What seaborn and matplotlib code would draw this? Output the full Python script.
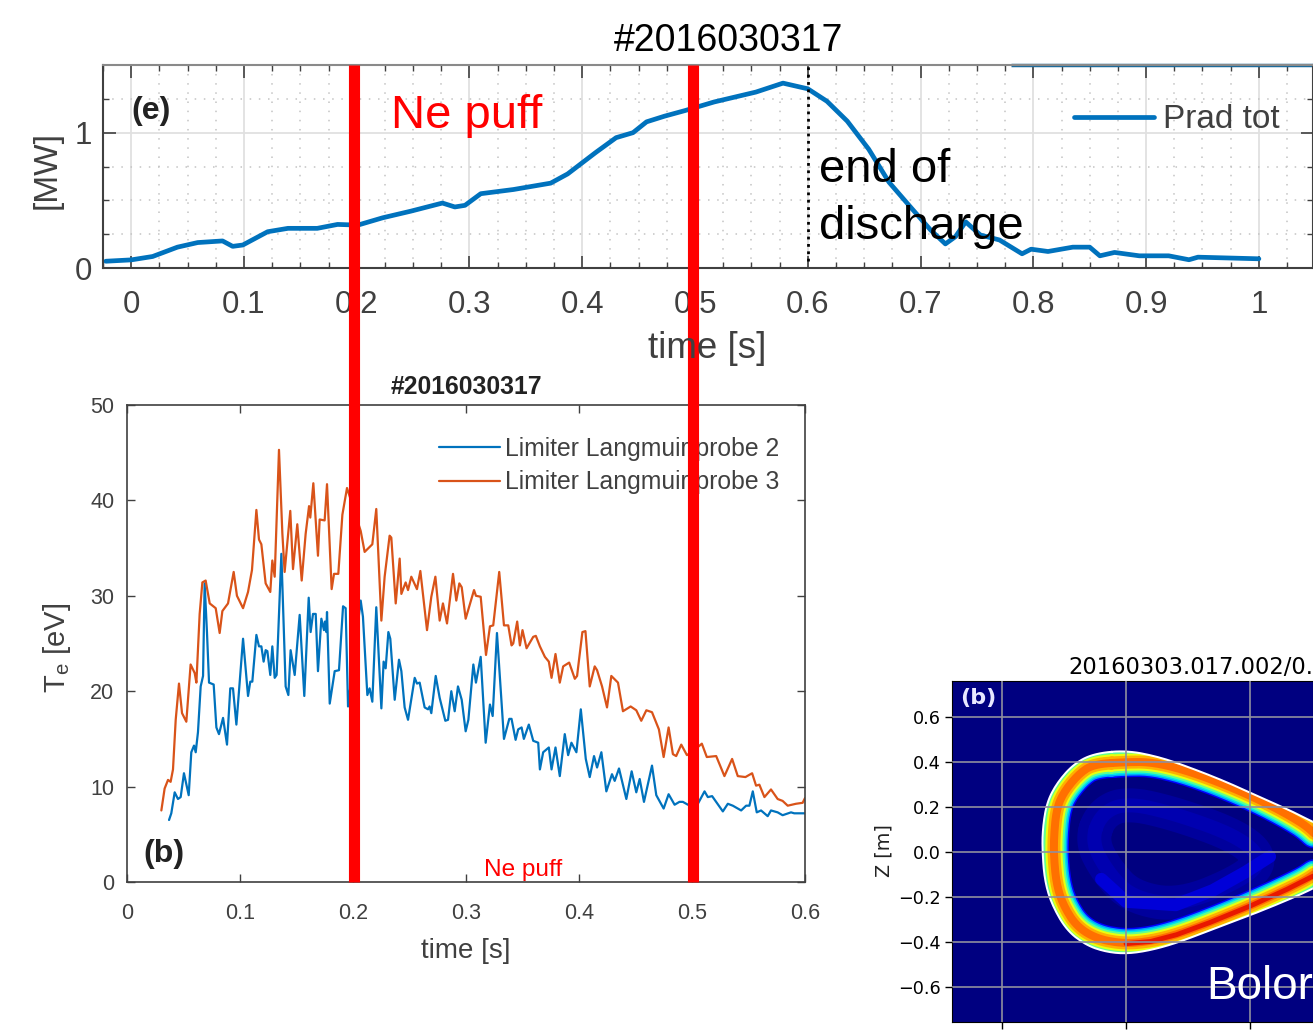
# Radiated power and limiter Te for shot 2016030317, with the bolometer tomogram

import matplotlib.pyplot as plt
import numpy as np
import seaborn as sns
from matplotlib.patches import Polygon

# Total radiated power
prad_t = [-.0225, 0, .019, .041, .059, .081, .09, .099, .121, .139, .165, .183, .201, .223, .248, .276, .287, .296,
          .31, .339, .372, .387, .412, .43, .445, .457, .473, .491, .517, .554, .578, .6, .617, .635, .654, .672,
          .691, .709, .722, .731, .74, .753, .77, .79, .798, .813, .835, .85, .859, .872, .894, .92, .938, .946, 1.0]
prad_mw = [.05, .06, .085, .154, .188, .20, .16, .17, .268, .293, .293, .322, .317, .371, .42, .48, .451, .463,
           .549, .58, .627, .695, .854, .963, 1.0, 1.08, 1.122, 1.163, 1.227, 1.30, 1.366, 1.324, 1.232, 1.085, .878, .634,
           .451, .28, .178, .232, .341, .244, .207, .105, .139, .122, .154, .154, .09, .115, .09, .09, .061, .08, .068]

# Limiter Langmuir probe 2
lp2_t = [.0372, .0392, .0422, .0451, .0475, .0504, .0546, .0569, .0593, .0608, .0628, .0652, .0673, .0687, .0708,
         .0726, .0767, .0791, .0814, .085, .0885, .0914, .0938, .0968, .1027, .1071, .1091, .1109, .1145, .1168,
         .1189, .1209, .1227, .1242, .1268, .1286, .1307, .1324, .1366, .1404, .1428, .1448, .1484, .1528, .1569,
         .1608, .1625, .1646, .167, .169, .172, .1743, .1752, .1764, .177, .1794, .1838, .1876, .1912, .1935, .1956,
         .2068, .2088, .2127, .2147, .2171, .2206, .2251, .2271, .2289, .2313, .233, .2369, .2407, .2428, .2457,
         .2487, .2546, .2566, .259, .2634, .2664, .2678, .2693, .2732, .2767, .2817, .2841, .287, .29, .2929, .2962,
         .2997, .3021, .3065, .3088, .313, .3174, .3212, .3236, .3274, .3336, .3383, .3403, .3439, .3462, .3492,
         .3512, .3556, .3595, .3639, .3654, .3683, .3733, .3757, .3792, .383, .3874, .3904, .3933, .3977, .4016,
         .406, .4095, .4133, .416, .4198, .4242, .4292, .4316, .4354, .4419, .4466, .4507, .4537, .4575, .4646,
         .4684, .4749, .4793, .4846, .4889, .4919, .4964, .5052, .5111, .514, .5178, .5273, .5317, .5361, .5435,
         .5479, .5508, .5538, .5573, .5611, .567, .5699, .5758, .5802, .5876, .5905, .5949, .6]
lp2_te = [6.5, 7.2, 9.4, 8.7, 8.9, 11.4, 9.1, 13.6, 14.3, 13.6, 15.7, 20.5, 21.6, 31.3, 26.1,
          20.9, 20.7, 16.2, 15.5, 17.2, 14.4, 20.3, 20.3, 16.5, 25.5, 19.5, 21.0, 21.0, 25.9, 24.7,
          24.7, 23.1, 24.3, 24.2, 21.7, 24.7, 21.4, 21.7, 34.4, 20.5, 19.6, 24.3, 21.7, 28.0, 19.5,
          29.8, 26.2, 28.1, 28.1, 22.1, 27.6, 26.4, 27.3, 26.2, 28.3, 18.7, 22.1, 22.2, 28.9, 28.7, 18.4,
          29.5, 27.8, 19.6, 20.3, 18.9, 28.8, 18.2, 23.1, 22.4, 26.2, 25.5, 19.1, 23.3, 22.1, 18.3,
          17.0, 21.4, 20.8, 20.9, 18.3, 18.1, 18.4, 17.7, 21.6, 19.3, 16.9, 17.0, 20.0, 17.9, 20.5, 19.1,
          15.8, 17.0, 22.8, 20.9, 23.6, 14.6, 18.6, 17.4, 26.1, 15.0, 17.1, 17.1, 14.9, 16.0, 16.2,
          15.0, 16.5, 14.8, 14.6, 11.8, 13.6, 14.1, 11.8, 14.1, 11.1, 15.5, 13.3, 14.6, 13.6, 18.1,
          12.9, 11.0, 13.2, 12.0, 13.6, 9.5, 11.3, 10.6, 11.9, 8.7, 11.6, 9.4, 10.8, 8.4, 12.2,
          9.1, 7.7, 9.2, 8.1, 8.4, 8.4, 8.1, 8.2, 9.5, 8.9, 9.0, 7.4, 8.2, 8.0, 7.5,
          8.0, 8.0, 9.5, 7.3, 7.5, 6.9, 7.5, 7.3, 7.0, 7.3, 7.2, 7.2, 7.2]

# Limiter Langmuir probe 3
lp3_t = [.0304, .0333, .0363, .0386, .0407, .0431, .046, .0487, .0525, .0563, .0599, .0614, .0643, .0667, .0696,
         .0732, .0785, .082, .0844, .0894, .0944, .0973, .1027, .1071, .1106, .1145, .1168, .1189, .1227, .1268,
         .1286, .1307, .1345, .1375, .1395, .1445, .1469, .1507, .1546, .1581, .1611, .1622, .1649, .169, .1705,
         .1749, .177, .1811, .1832, .187, .1906, .1947, .2068, .2103, .2171, .2206, .2251, .228, .2324, .2339,
         .2378, .2413, .2428, .2466, .2487, .2516, .2566, .2596, .2655, .2693, .2729, .2767, .2796, .2832, .2885,
         .2914, .2941, .2962, .2997, .3071, .3088, .313, .3177, .3212, .3241, .3294, .3336, .3374, .3403, .3418,
         .3453, .3477, .35, .3536, .3595, .3618, .3654, .3698, .3733, .3757, .3792, .383, .386, .3913, .3963, .3983,
         .403, .4057, .4095, .4139, .416, .4204, .4248, .4286, .4345, .4389, .4457, .4507, .4551, .4596, .4646,
         .4707, .4749, .4793, .4831, .486, .4905, .4955, .5008, .5087, .5131, .5214, .5287, .5355, .5405, .5473,
         .5532, .5567, .5596, .5641, .5699, .5758, .5802, .5847, .592, .5979, .6]
lp3_te = [7.5, 9.8, 10.7, 10.5, 11.8, 17.0, 20.8, 17.7, 16.8, 22.8, 21.9, 20.9, 28.1, 31.4, 31.6,
          29.2, 28.7, 26.1, 28.4, 29.2, 32.5, 30.0, 28.7, 30.4, 32.7, 39.0, 35.9, 35.4, 31.3, 30.4,
          33.7, 32.0, 45.3, 36.5, 32.5, 38.9, 32.8, 37.5, 31.6, 36.5, 39.4, 38.2, 41.8, 34.2, 38.0,
          37.9, 41.7, 30.7, 32.3, 32.3, 38.5, 41.3, 36.8, 34.6, 35.4, 39.1, 27.4, 32.0, 36.3, 36.1,
          29.2, 33.9, 30.2, 31.4, 30.6, 32.0, 30.7, 32.6, 26.4, 29.9, 32.0, 27.4, 29.2, 27.1, 32.3,
          29.5, 31.3, 30.9, 27.6, 30.6, 30.0, 29.9, 23.8, 26.8, 26.9, 32.5, 26.9, 26.9, 24.8, 25.0,
          27.3, 24.8, 26.4, 24.5, 25.7, 25.8, 24.7, 23.6, 23.1, 21.4, 23.9, 20.9, 22.6, 23.0, 21.3, 21.6,
          26.2, 26.3, 20.5, 22.6, 22.2, 20.5, 18.3, 21.6, 20.9, 17.9, 18.4, 18.0, 16.9, 18.0, 17.8,
          16.0, 13.1, 16.2, 13.4, 13.2, 14.4, 13.3, 13.7, 14.5, 13.1, 13.2, 11.1, 12.9, 11.1, 11.0,
          11.4, 10.1, 10.2, 8.9, 9.7, 8.7, 8.5, 8.0, 8.2, 8.3, 8.8]

# Tomogram contours, R and Z in metres
edge_r = [5.50, 5.367, 5.287, 5.219, 5.179, 5.163, 5.163, 5.172, 5.199, 5.26, 5.341, 5.421, 5.502, 5.596, 5.704,
          5.838, 6.0, 6.148, 6.254, 6.39, 6.431, 6.39, 6.254, 6.175, 6.04, 5.906, 5.771, 5.637]
edge_z = [.452, .437, .39, .304, .215, .096, -.007, -.126, -.23, -.348, -.415, -.444, -.452, -.437, -.404,
          -.348, -.281, -.215, -.163, -.081, -.007, .067, .133, .178, .244, .311, .37, .422]
band_r = [5.50, 5.367, 5.307, 5.246, 5.219, 5.209, 5.209, 5.219, 5.246, 5.30, 5.381, 5.489, 5.596, 5.704, 5.838,
          6.0, 6.148, 6.254, 6.336, 6.254, 6.148, 6.0, 5.838, 5.704, 5.596]
band_z = [.40, .39, .345, .262, .187, .067, -.022, -.141, -.235, -.33, -.385, -.407, -.397, -.367, -.313,
          -.24, -.166, -.107, -.022, .096, .17, .252, .326, .375, .40]
core_r = [5.36, 5.40, 5.50, 5.70, 5.95, 6.05, 5.98, 5.72, 5.52, 5.42]
core_z = [.05, .17, .22, .17, .07, -.03, -.12, -.24, -.2, -.08]
glow_r = [5.40, 5.50, 5.70, 5.85, 5.98, 6.08]
glow_z = [-.12, -.22, -.235, -.17, -.09, -.02]
hot_r = [5.50, 5.60, 5.704, 5.838, 6.0, 6.148, 6.254]
hot_z = [-.407, -.397, -.367, -.313, -.24, -.166, -.107]

W, H = 1313, 1030
MATLAB_GREY = '#404040'


def px_axes(left, top, right, bottom):
    return fig.add_axes([left / W, 1 - bottom / H, (right - left) / W, (bottom - top) / H])


def px_text(x, y, s, **kw):
    kw.setdefault('ha', 'center')
    kw.setdefault('va', 'center')
    return fig.text(x / W, 1 - (y + 3) / H, s, **kw)


def smooth(xs, ys, rounds=3):
    # corner cutting, so the closed contours look round when stroked
    pts = np.column_stack([xs, ys])
    for _ in range(rounds):
        nxt = np.roll(pts, -1, axis=0)
        pts = np.column_stack([0.75 * pts + 0.25 * nxt, 0.25 * pts + 0.75 * nxt]).reshape(-1, 2)
    pts = np.vstack([pts, pts[:1]])
    return pts[:, 0], pts[:, 1]


def contour(ax, xs, ys, color, width_px, clip=None):
    sx, sy = smooth(xs, ys)
    before = len(ax.lines)
    sns.lineplot(x=sx, y=sy, sort=False, estimator=None, color=color, lw=width_px * 0.72, ax=ax, legend=False,
                 solid_joinstyle='round')
    if clip is not None:
        ax.lines[before].set_clip_path(clip)


sns.set_theme(style='ticks')
plt.rcParams['font.family'] = ['Liberation Sans', 'DejaVu Sans']
plt.rcParams['mathtext.default'] = 'regular'

fig = plt.figure(figsize=(W / 100, H / 100), dpi=100)

# Top panel: Prad
ax_top = px_axes(103, 65, 1313, 268)
sns.lineplot(x=prad_t, y=prad_mw, estimator=None, sort=False, color='#0072BD', lw=3.4, label='Prad tot', ax=ax_top)
ax_top.vlines(0.6, 0.05, 1.5, color='black', ls=':', lw=2)
ax_top.hlines(1.5, 0.78, 1.05, color='#1a6a9c', lw=2.5, clip_on=False)
ax_top.set_xlim(-0.0248, 1.048)
ax_top.set_ylim(0, 1.5)
ax_top.set_xticks(np.arange(0, 1.01, 0.1))
ax_top.set_xticklabels(['0', '0.1', '0.2', '0.3', '0.4', '0.5', '0.6', '0.7', '0.8', '0.9', '1'])
ax_top.set_yticks([0, 1])
ax_top.set_yticklabels(['0', '1'])
ax_top.set_xticks(np.arange(-0.025, 1.05, 0.025), minor=True)
ax_top.set_yticks([0.25, 0.5, 0.75, 1.25], minor=True)
ax_top.grid(which='major', color='#e0e0e0', lw=1.3)
ax_top.grid(which='minor', color='#c4c4c4', lw=1.1, ls=(0, (1, 5)))
ax_top.tick_params(which='major', direction='in', top=True, right=True, length=9, width=1.2, color=MATLAB_GREY,
                   labelcolor=MATLAB_GREY, labelsize=22.5, pad=15.5)
ax_top.tick_params(which='minor', direction='in', top=True, right=True, length=4, width=1, color=MATLAB_GREY)
ax_top.tick_params(axis='y', which='major', pad=8)
for side, spine in ax_top.spines.items():
    spine.set_visible(True)
    spine.set_color(MATLAB_GREY if side != 'top' else '#8a8a8a')
    spine.set_linewidth(1.5)
ax_top.legend(loc='center left', bbox_to_anchor=(1074 / W, 1 - 120 / H), bbox_transform=fig.transFigure,
              frameon=False, fontsize=24, handlelength=2.4, handletextpad=0.27, borderpad=0, borderaxespad=0,
              labelcolor=MATLAB_GREY)
ax_top.set_xlabel('')
ax_top.set_ylabel('')

px_text(729, 38, '#2016030317', fontsize=27, color='black')
px_text(47, 167, '[MW]', fontsize=24, rotation=90, color=MATLAB_GREY)
px_text(151, 108, '(e)', fontsize=23, fontweight='bold', color='#222222')
px_text(467, 113, 'Ne puff', fontsize=34, color='#ff0000')
px_text(819, 167, 'end of', fontsize=34, color='black', ha='left')
px_text(819, 224, 'discharge', fontsize=34, color='black', ha='left')
px_text(707, 346, 'time [s]', fontsize=26.5, color=MATLAB_GREY)

# Lower left panel: Te
ax_te = px_axes(127, 405, 805, 882)
sns.lineplot(x=lp2_t, y=lp2_te, estimator=None, sort=False, color='#0072BD', lw=1.6, label='Limiter Langmuir probe 2',
             ax=ax_te)
sns.lineplot(x=lp3_t, y=lp3_te, estimator=None, sort=False, color='#D95319', lw=1.6, label='Limiter Langmuir probe 3',
             ax=ax_te)
ax_te.set_xlim(0, 0.6)
ax_te.set_ylim(0, 50)
ax_te.set_xticks(np.arange(0, 0.61, 0.1))
ax_te.set_xticklabels(['0', '0.1', '0.2', '0.3', '0.4', '0.5', '0.6'])
ax_te.set_yticks(np.arange(0, 51, 10))
ax_te.tick_params(direction='in', top=True, right=True, length=6, width=1, color=MATLAB_GREY,
                  labelcolor=MATLAB_GREY, labelsize=15.5, pad=9)
ax_te.tick_params(axis='x', pad=15)
for spine in ax_te.spines.values():
    spine.set_visible(True)
    spine.set_color(MATLAB_GREY)
    spine.set_linewidth(1.2)
ax_te.legend(loc='center left', bbox_to_anchor=(439 / W, 1 - 465.5 / H), bbox_transform=fig.transFigure,
             frameon=False, fontsize=17.8, handlelength=2.45, handletextpad=0.2, labelspacing=0.38, borderpad=0,
             borderaxespad=0, labelcolor=MATLAB_GREY)
ax_te.set_xlabel('')
ax_te.set_ylabel('')

# Puff window markers run up through both panels
for puff_t in [0.2, 0.5]:
    ax_te.axvline(puff_t + 0.0012, 0, 1.713, color='#ff0000', lw=8, clip_on=False, zorder=10, solid_capstyle='butt')

px_text(466, 384, '#2016030317', fontsize=17.8, fontweight='bold', color='#222222')
px_text(57, 645, 'T$_{e}$ [eV]', fontsize=21, rotation=90, color=MATLAB_GREY)
px_text(164, 851, '(b)', fontsize=23, fontweight='bold', color='#222222')
px_text(523, 867, 'Ne puff', fontsize=17.6, color='#ff0000')
px_text(466, 948, 'time [s]', fontsize=20, color=MATLAB_GREY)

# Lower right panel: tomogram, cropped by the page edge
ax_bolo = px_axes(952, 681, 1313, 1022)
ax_bolo.set_facecolor('#000080')
ring_clip = Polygon(np.column_stack(smooth(edge_r, edge_z)), closed=True, transform=ax_bolo.transData)
contour(ax_bolo, core_r, core_z, '#00009c', 34)
contour(ax_bolo, core_r, core_z, '#0000b0', 14)
sns.lineplot(x=glow_r, y=glow_z, sort=False, estimator=None, color='#0000d8', lw=9, ax=ax_bolo, legend=False)
contour(ax_bolo, band_r, band_z, '#0000ff', 30, ring_clip)
contour(ax_bolo, band_r, band_z, '#00a0ff', 27, ring_clip)
contour(ax_bolo, band_r, band_z, '#00e8e8', 24, ring_clip)
contour(ax_bolo, band_r, band_z, '#60ff90', 21, ring_clip)
contour(ax_bolo, band_r, band_z, '#e8ff10', 17, ring_clip)
contour(ax_bolo, band_r, band_z, '#ffb000', 13, ring_clip)
contour(ax_bolo, band_r, band_z, '#ff7000', 8, ring_clip)
sns.lineplot(x=hot_r, y=hot_z, sort=False, estimator=None, color='#e81800', lw=3.5, ax=ax_bolo, legend=False)
contour(ax_bolo, edge_r, edge_z, '#ffffff', 2)
ax_bolo.set_xlim(4.798, 6.254)
ax_bolo.set_ylim(-0.755, 0.76)
ax_bolo.set_xticks([5.0, 5.5, 6.0])
ax_bolo.set_xticklabels([])
ax_bolo.set_yticks([0.6, 0.4, 0.2, 0.0, -0.2, -0.4, -0.6])
ax_bolo.set_yticklabels(['0.6', '0.4', '0.2', '0.0', '\u22120.2', '\u22120.4', '\u22120.6'], family='DejaVu Sans')
ax_bolo.tick_params(length=5, width=1, color='black', labelcolor='black', labelsize=12.7, pad=3)
ax_bolo.grid(color='#8f8f9f', lw=1.2)
ax_bolo.set_axisbelow(False)
for line in ax_bolo.get_xgridlines() + ax_bolo.get_ygridlines():
    line.set_zorder(5)
for spine in ax_bolo.spines.values():
    spine.set_visible(True)
    spine.set_color('black')
    spine.set_linewidth(0.8)

px_text(1068, 664, '20160303.017.002/0.', fontsize=16.3, family='DejaVu Sans', color='black', ha='left')
px_text(884, 848, 'Z [m]', fontsize=13.8, family='DejaVu Sans', rotation=90, color='#222222')
px_text(978, 695, '(b)', fontsize=16, family='DejaVu Sans', fontweight='bold', color='#e8e8ff')
px_text(1206, 984, 'Bolor', fontsize=33, color='white', ha='left')

fig.savefig('out.png', dpi=100)
